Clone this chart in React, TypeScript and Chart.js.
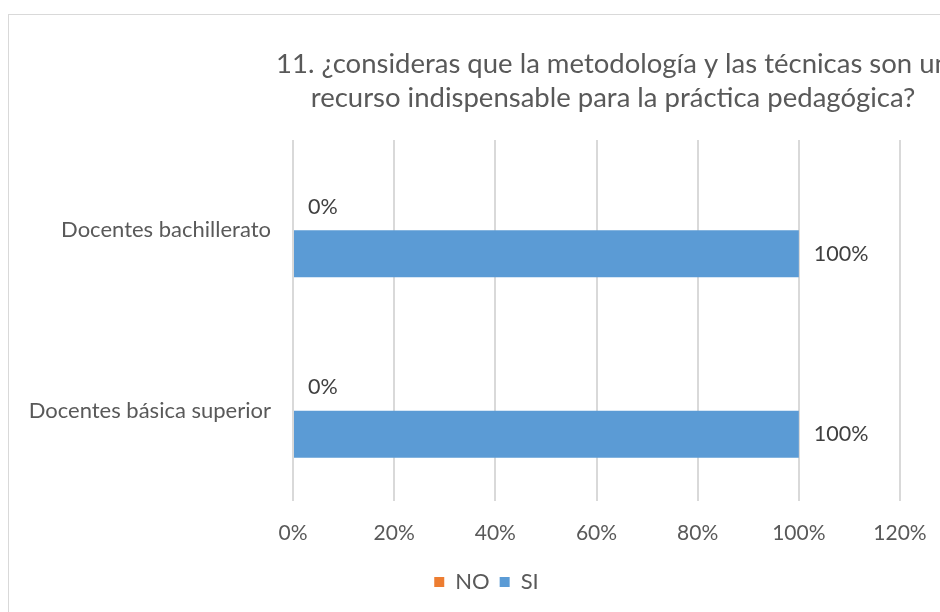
import React, { useEffect, useRef } from 'react';
import { Chart, registerables } from 'chart.js';

Chart.register(...registerables);

const categories = ['Docentes bachillerato', 'Docentes básica superior'];
const seriesNames = ['NO', 'SI'];
const noValues = [0, 0];
const siValues = [1, 1];
const xMin = 0;
const xMax = 1.2;
const xStep = 0.2;
const titleLines = [
  '11. ¿consideras que la metodología y las técnicas son un',
  'recurso indispensable para la práctica pedagógica?',
];

const FONT = 'Lato, "Open Sans", sans-serif';
const TEXT = '#595959';
const LABEL = '#404040';
const GRID = '#d9d9d9';
const ORANGE = '#ED7D31';
const BLUE = '#5B9BD5';

const fmt = (v: number) => Math.round(v * 100) + '%';

const titlePlugin = {
  id: 'offsetTitle',
  afterDraw(chart: any) {
    const ctx = chart.ctx;
    ctx.save();
    ctx.font = `27.5px ${FONT}`;
    ctx.fillStyle = TEXT;
    ctx.textAlign = 'center';
    ctx.textBaseline = 'middle';
    titleLines.forEach((line, i) => ctx.fillText(line, 604, 49 + i * 34));
    ctx.restore();
  },
};

const labelPlugin = {
  id: 'barLabels',
  afterDatasetsDraw(chart: any) {
    const ctx = chart.ctx;
    ctx.save();
    ctx.font = `21.5px ${FONT}`;
    ctx.fillStyle = LABEL;
    ctx.textAlign = 'left';
    ctx.textBaseline = 'middle';
    chart.data.datasets.forEach((ds: any, di: number) => {
      const meta = chart.getDatasetMeta(di);
      meta.data.forEach((el: any, i: number) => {
        ctx.fillText(fmt(ds.data[i]), el.x + 15, el.y);
      });
    });
    ctx.restore();
  },
};

export default function App() {
  const ref = useRef<HTMLCanvasElement>(null);

  useEffect(() => {
    if (!ref.current) return;
    const chart = new Chart(ref.current, {
      type: 'bar',
      data: {
        labels: categories,
        datasets: [
          { label: seriesNames[0], data: noValues, backgroundColor: ORANGE, borderWidth: 0 },
          { label: seriesNames[1], data: siValues, backgroundColor: BLUE, borderWidth: 0 },
        ],
      },
      options: {
        indexAxis: 'y',
        responsive: false,
        animation: false,
        categoryPercentage: 0.52,
        barPercentage: 1,
        layout: { padding: { top: 125, right: 1, left: 0, bottom: 2 } },
        scales: {
          x: {
            min: xMin,
            max: xMax,
            ticks: {
              stepSize: xStep,
              callback: (v: any) => fmt(Number(v)),
              color: TEXT,
              font: { family: FONT, size: 21 },
              padding: 20,
            },
            grid: { color: GRID, lineWidth: 2, drawTicks: false },
            border: { display: false },
            afterFit: (s: any) => {
              s.height = 60;
            },
          },
          y: {
            ticks: { color: TEXT, font: { family: FONT, size: 22 }, padding: 22 },
            grid: { display: false, drawTicks: false },
            border: { display: false },
            afterFit: (s: any) => {
              s.width = 284;
            },
          },
          y2: {
            type: 'category',
            position: 'right',
            display: true,
            ticks: { display: false },
            grid: { display: false, drawTicks: false },
            border: { display: false },
            afterFit: (s: any) => {
              s.width = 64;
            },
          },
        },
        plugins: {
          title: { display: false },
          tooltip: { enabled: false },
          legend: {
            position: 'bottom',
            labels: {
              boxWidth: 10,
              boxHeight: 10,
              padding: 10,
              color: TEXT,
              font: { family: FONT, size: 22 },
            },
          },
        },
      } as any,
      plugins: [titlePlugin, labelPlugin],
    });
    return () => chart.destroy();
  }, []);

  return (
    <div
      style={{
        position: 'fixed',
        left: 8,
        top: 14,
        width: 932,
        height: 598,
        overflow: 'hidden',
        background: '#fff',
      }}
    >
      <div
        style={{
          borderLeft: '1px solid #d9d9d9',
          borderTop: '1px solid #d9d9d9',
          width: 1300,
          height: 700,
        }}
      >
        <canvas ref={ref} width={956} height={590} style={{ display: 'block' }} />
      </div>
    </div>
  );
}
